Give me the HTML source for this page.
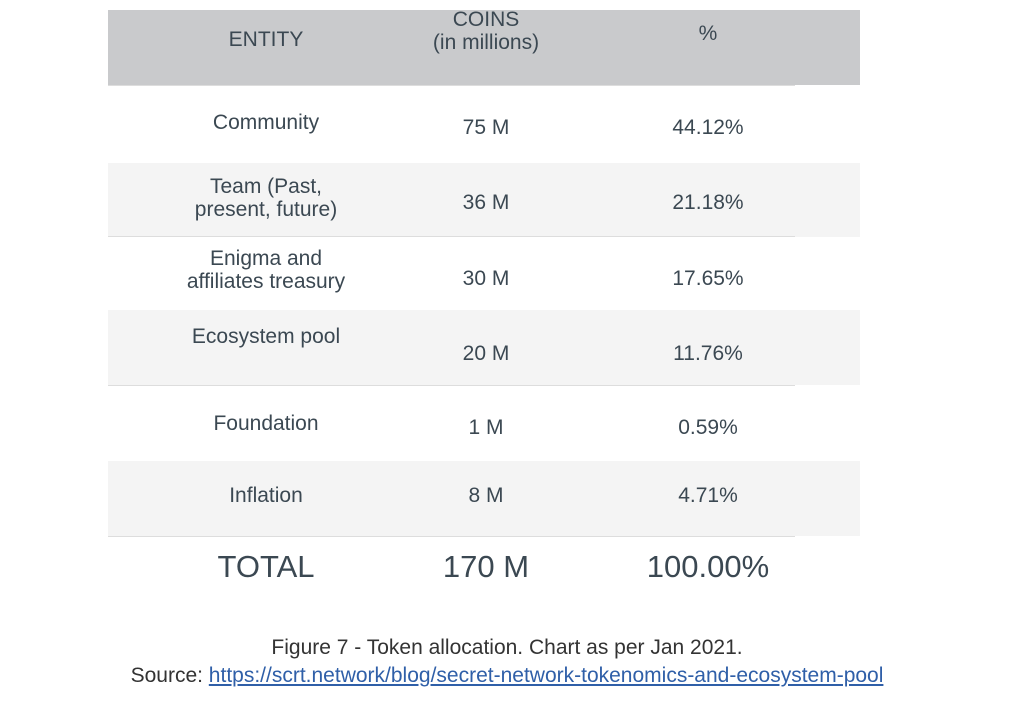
<!DOCTYPE html>
<html><head><meta charset="utf-8"><style>
body{margin:0;width:1010px;height:708px;background:#fff;position:relative;overflow:hidden;font-family:"Liberation Sans",sans-serif;color:#3b4852}
.a{position:absolute}
.t{position:absolute;text-align:center;transform:translateX(-50%);white-space:nowrap;line-height:1.08}
.c1{left:266px}.c2{left:486px}.c3{left:708px}
.cell{font-size:21px}
</style></head><body>
<div class="a" style="left:108px;top:10px;width:752px;height:75px;background:#c9cacc"></div>
<div class="a" style="left:108px;top:163px;width:752px;height:74px;background:#f4f4f4"></div>
<div class="a" style="left:108px;top:310px;width:752px;height:75px;background:#f4f4f4"></div>
<div class="a" style="left:108px;top:461px;width:752px;height:75px;background:#f4f4f4"></div>
<div class="a" style="left:108px;top:85px;width:687px;height:1px;background:#ddd"></div>
<div class="a" style="left:108px;top:236px;width:687px;height:1px;background:#ddd"></div>
<div class="a" style="left:108px;top:385px;width:687px;height:1px;background:#ddd"></div>
<div class="a" style="left:108px;top:536px;width:687px;height:1px;background:#ddd"></div>

<div class="t c1 cell" style="top:29px">ENTITY</div>
<div class="t c2 cell" style="top:9px">COINS<br>(in millions)</div>
<div class="t c3 cell" style="top:23px">%</div>

<div class="t c1 cell" style="top:112px">Community</div>
<div class="t c2 cell" style="top:117px">75 M</div>
<div class="t c3 cell" style="top:117px">44.12%</div>

<div class="t c1 cell" style="top:176px">Team (Past,<br>present, future)</div>
<div class="t c2 cell" style="top:192px">36 M</div>
<div class="t c3 cell" style="top:192px">21.18%</div>

<div class="t c1 cell" style="top:248px">Enigma and<br>affiliates treasury</div>
<div class="t c2 cell" style="top:268px">30 M</div>
<div class="t c3 cell" style="top:268px">17.65%</div>

<div class="t c1 cell" style="top:326px">Ecosystem pool</div>
<div class="t c2 cell" style="top:343px">20 M</div>
<div class="t c3 cell" style="top:343px">11.76%</div>

<div class="t c1 cell" style="top:413px">Foundation</div>
<div class="t c2 cell" style="top:417px">1 M</div>
<div class="t c3 cell" style="top:417px">0.59%</div>

<div class="t c1 cell" style="top:485px">Inflation</div>
<div class="t c2 cell" style="top:485px">8 M</div>
<div class="t c3 cell" style="top:485px">4.71%</div>

<div class="t c1" style="top:550px;font-size:31px">TOTAL</div>
<div class="t c2" style="top:550px;font-size:31px">170 M</div>
<div class="t c3" style="top:550px;font-size:31px">100.00%</div>

<div class="t" style="left:507px;top:637px;font-size:21px;color:#333">Figure 7 - Token allocation. Chart as per Jan 2021.</div>
<div class="t" style="left:507px;top:665px;font-size:21px;color:#333">Source: <span style="color:#2f5fa8;text-decoration:underline">https://scrt.network/blog/secret-network-tokenomics-and-ecosystem-pool</span></div>
</body></html>
